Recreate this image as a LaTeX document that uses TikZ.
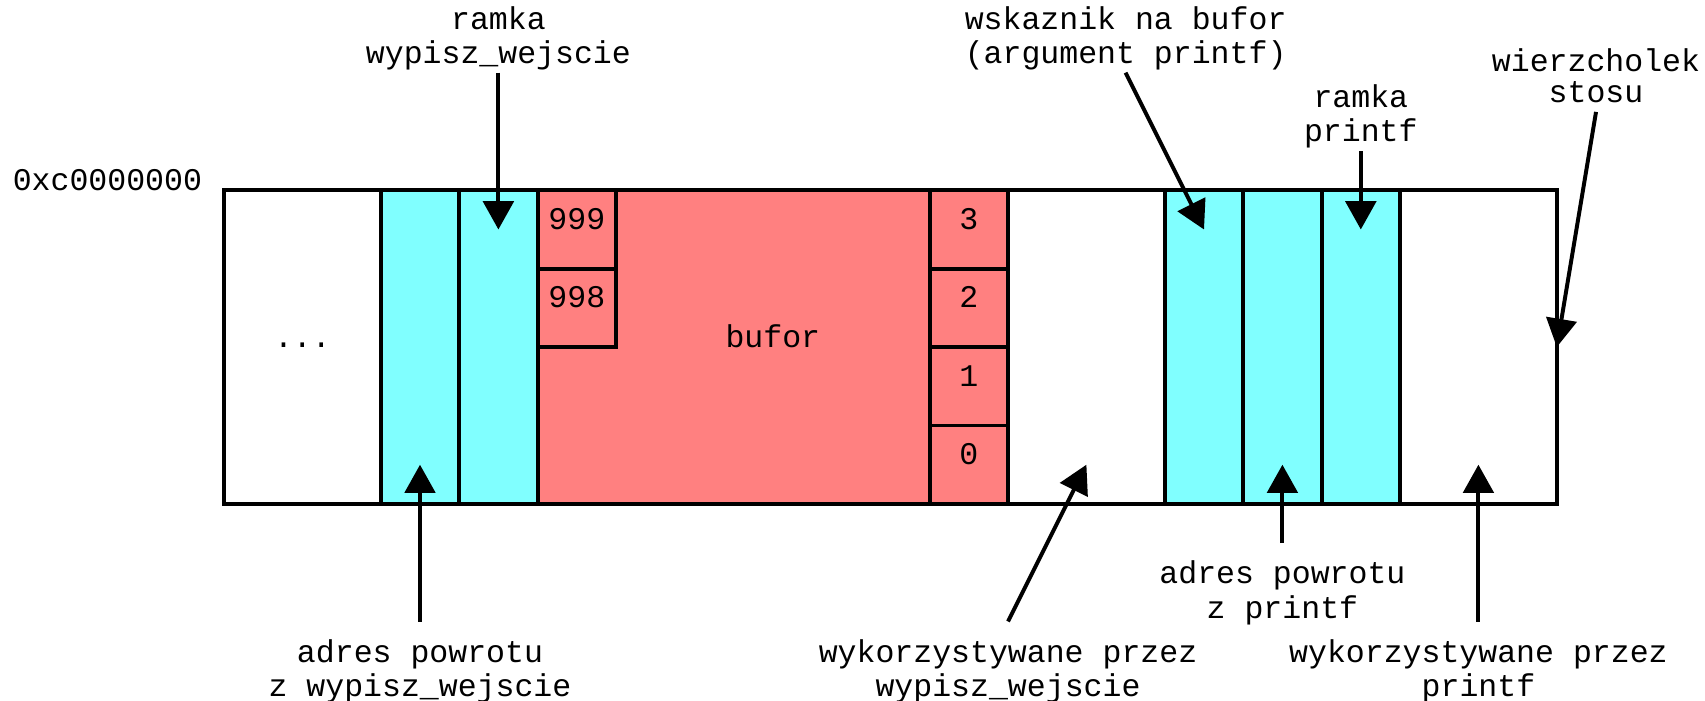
\documentclass[tikz,border=0pt]{standalone}
\usepackage{fontspec}
\setmainfont{Liberation Mono}
\usetikzlibrary{arrows.meta}
\definecolor{lcyan}{HTML}{80FFFF}
\definecolor{lred}{HTML}{FF8080}
\begin{document}
\begin{tikzpicture}[x=36.05pt,y=36.05pt,
  every node/.style={font=\fontsize{14.5}{14.2}\selectfont,inner sep=0pt,outer sep=0pt},
  box/.style={draw,line width=1.8pt},
  toplbl/.style={align=center,anchor=south,inner ysep=0pt},
  botlbl/.style={align=center,anchor=north,inner ysep=8.2pt},
  arr/.style={line width=1.8pt,-{Triangle[length=13pt,width=14pt]}},
  celltxt/.style={anchor=base}
]
\useasboundingbox (-2.857,2.427) rectangle (18.89,-6.505);
% fills
\fill[lcyan] (2,0) rectangle (4,-4);
\fill[lred] (4,0) rectangle (10,-4);
\fill[lcyan] (12,0) rectangle (15,-4);
% lines
\draw[box] (0,0) rectangle (17,-4);
\foreach \x in {2,3,4,9,10,12,13,14,15} \draw[box] (\x,0) -- (\x,-4);
\draw[box] (4,-1) -- (5,-1);
\draw[box] (4,-2) -- (5,-2) -- (5,0);
\foreach \y in {-1,-2,-3} \draw[box] (9,\y) -- (10,\y);
% texts inside
\node[anchor=base east] (addr) at (-0.28,0) {0xc0000000};
\node[celltxt] (dots) at (1,-2) {...};
\node[celltxt] (c999) at (4.5,-0.5) {999};
\node[celltxt] (c998) at (4.5,-1.5) {998};
\node[celltxt] (buf) at (7,-2) {bufor};
\node[celltxt] (c3) at (9.5,-0.5) {3};
\node[celltxt] (c2) at (9.5,-1.5) {2};
\node[celltxt] (c1) at (9.5,-2.5) {1};
\node[celltxt] (c0) at (9.5,-3.5) {0};
% arrow targets
\coordinate (t1) at (3.5,-0.5);
\coordinate (t2) at (12.5,-0.5);
\coordinate (t3) at (14.5,-0.5);
\coordinate (t4) at (17,-2);
\coordinate (t5) at (2.5,-3.5);
\coordinate (t6) at (11,-3.5);
\coordinate (t7) at (13.5,-3.5);
\coordinate (t8) at (16,-3.5);
% labels
\node[toplbl] (l1) at (3.5,1.5) {\strut ramka\\\strut wypisz\_wejscie};
\node[toplbl] (l2) at (11.5,1.5) {\strut wskaznik na bufor\\\strut (argument printf)};
\node[toplbl] (l3) at (14.5,0.5) {\strut ramka\\\strut printf};
\node[toplbl] (l4) at (17.5,1.0) {\strut wierzcholek\\\strut stosu};
\node[botlbl] (l5) at (2.5,-5.5) {\strut adres powrotu\\\strut z wypisz\_wejscie};
\node[botlbl] (l6) at (10,-5.5) {\strut wykorzystywane przez\\\strut wypisz\_wejscie};
\node[botlbl] (l7) at (13.5,-4.5) {\strut adres powrotu\\\strut z printf};
\node[botlbl] (l8) at (16,-5.5) {\strut wykorzystywane przez\\\strut printf};
% arrows
\draw[arr] (l1.south) -- (t1);
\draw[arr] (l2.south) -- (t2);
\draw[arr] (l3.south) -- (t3);
\draw[arr] (l4.south) -- (t4);
\draw[arr] (l5.north) -- (t5);
\draw[arr] (l6.north) -- (t6);
\draw[arr] (l7.north) -- (t7);
\draw[arr] (l8.north) -- (t8);
\end{tikzpicture}
\end{document}
